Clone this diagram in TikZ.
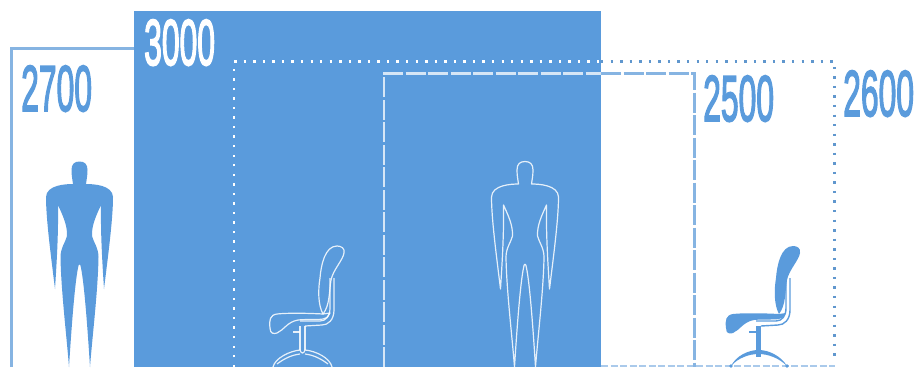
\documentclass[tikz,border=0pt]{standalone}
\usepackage{fontspec}
\setmainfont[FakeBold=3]{Liberation Sans}
\definecolor{bl}{HTML}{5A9BDC}
\definecolor{frame}{HTML}{86B4E2}
\newcommand{\manshape}{
 (-6.5,184) .. controls (-7,180) and (-8,176) .. (-8,170) .. controls (-8,164) and (-5,161.5) .. (0,161.5)
 .. controls (5,161.5) and (8,164) .. (8,170) .. controls (8,176) and (7,180) .. (6.5,184)
 .. controls (14,184) and (33,185) .. (33.5,197)
 .. controls (33.5,220) and (28,260) .. (24.5,289)
 .. controls (23,265) and (21,235) .. (21.5,205)
 .. controls (17,215) and (12,225) .. (12.5,236)
 .. controls (14,242) and (19,248) .. (19,257)
 .. controls (18.5,290) and (13,335) .. (10.5,367)
 .. controls (8.5,335) and (5,285) .. (1.5,268) .. controls (1,263) and (-1,263) .. (-1.5,268)
 .. controls (-5,285) and (-8.5,335) .. (-10.5,367)
 .. controls (-13,335) and (-18.5,290) .. (-19,257)
 .. controls (-19,248) and (-14,242) .. (-12.5,236)
 .. controls (-12,225) and (-17,215) .. (-21.5,205)
 .. controls (-21,235) and (-23,265) .. (-24.5,289)
 .. controls (-28,260) and (-33.5,220) .. (-33.5,197)
 .. controls (-33,185) and (-14,184) .. (-6.5,184) -- cycle}
\newcommand{\chairback}{
 (337,246) .. controls (341,246) and (345,248) .. (344,253)
 .. controls (343,260) and (333,270) .. (331,280)
 .. controls (329,292) and (330,305) .. (323,314)
 .. controls (318,305) and (318,290) .. (320,278)
 .. controls (321,265) and (325,246) .. (337,246) -- cycle}
\newcommand{\chairseat}{
 (323,314) .. controls (305,313) and (285,313) .. (277,314)
 .. controls (270,315) and (269,320) .. (270,328)
 .. controls (270,334) and (274,334) .. (277,333)
 .. controls (284,330) and (287,322) .. (298,320)
 .. controls (308,319) and (318,320) .. (323,319)
 .. controls (327,318) and (329,316) .. (330,313) -- cycle}
\newcommand{\chairrest}[1]{
 \draw[#1] (334,278) -- (334,310) .. controls (334,320) and (328,325) .. (322,325) -- (305,326);
 \draw[#1] (330,278) -- (330,308) .. controls (330,316) and (326,321) .. (320,321) -- (300,321);
 \draw[#1,line width=2.4pt] (293,332) -- (300,332);
}
\tikzset{
 numlabel/.style={inner sep=0pt,font=\fontsize{65}{65}\selectfont,anchor=base west},
 whiteline/.style={white,line width=1.2pt,line join=round,opacity=.85},
 dotline/.style={line width=2.4pt,dash pattern=on 2.4pt off 7.15pt},
 dashline/.style={line width=2.6pt,dash pattern=on 20pt off 2.5pt},
 floorline/.style={frame!70!white,line width=1.6pt,dash pattern=on 7pt off 2.5pt},
}
\begin{document}
\begin{tikzpicture}[x=1pt,y=-1pt]
\useasboundingbox (0,0) rectangle (918,367);
\clip (0,0) rectangle (918,367);
% frames
\draw[frame,line width=3.2pt] (11.5,367) -- (11.5,48.5) -- (134,48.5);
\fill[bl] (134,11) rectangle (601,367);
% dotted 2600 frame
\draw[bl!85!gray,dotline] (601,61.5) -- (834.5,61.5) -- (834.5,362);
\draw[floorline] (601,366) -- (835,366);
\begin{scope}
\clip (134,11) rectangle (601,367);
\draw[white,dotline] (234,367) -- (234,61.5) -- (601,61.5);
\end{scope}
% dashed 2500 frame
\draw[frame,dashline] (601,73.5) -- (694.5,73.5) -- (694.5,367);
\draw[white!75!bl,dashline] (384,367) -- (384,73.5) -- (601,73.5);
% labels
\node[numlabel,text=bl] (l2700) at (21,111) {\scalebox{.49}[1]{2700}};
\node[numlabel,text=white] (l3000) at (144,65) {\scalebox{.49}[1]{3000}};
\node[numlabel,text=bl] (l2500) at (703,121) {\scalebox{.49}[1]{2500}};
\node[numlabel,text=bl] (l2600) at (843,116) {\scalebox{.49}[1]{2600}};
% men
\fill[bl,xshift=79.5pt] \manshape;
\draw[whiteline,xshift=525pt] \manshape;
% outline chair
\draw[whiteline] \chairback;
\draw[whiteline] \chairseat;
\chairrest{whiteline}
\draw[whiteline] (300,326) -- (300,350) (305,326) -- (305,350);
\draw[whiteline] (273,367) .. controls (275,358) and (290,351) .. (300,350) .. controls (301,354) and (304,354) .. (305,350)
   .. controls (316,351) and (330,358) .. (332,367);
\draw[whiteline] (277,364) .. controls (285,358) and (292,355) .. (300,354) (305,354) .. controls (313,355) and (320,358) .. (328,364);
% filled chair
\begin{scope}[xshift=456pt]
\fill[bl] \chairback;
\fill[bl] \chairseat;
\chairrest{bl,line width=1.4pt}
\fill[bl] (300,326) rectangle (305,357);
\fill[bl] (275,366) .. controls (280,356) and (292,350) .. (302.5,350)
   .. controls (313,350) and (325,356) .. (331,366)
   .. controls (323,358) and (312,354) .. (302.5,354)
   .. controls (293,354) and (282,358) .. (275,366) -- cycle;
\fill[bl] (275,366) circle (1.8) (331,366) circle (1.8);
\end{scope}
\end{tikzpicture}
\end{document}
